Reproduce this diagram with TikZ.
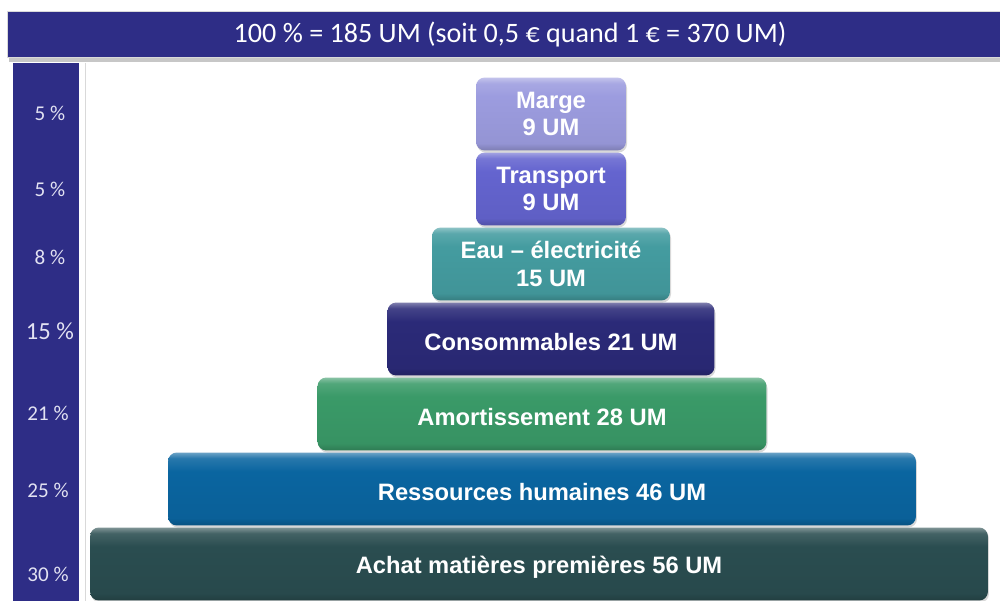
\documentclass[tikz,border=0pt]{standalone}
\usepackage{fontspec}
\setmainfont{Liberation Sans}
\newfontfamily\calib{Carlito}
\usetikzlibrary{shadows}

\definecolor{bandblue}{HTML}{2E2D86}
\definecolor{pctgray}{HTML}{E2E2F2}
\definecolor{margec}{HTML}{9C9CDF}
\definecolor{transc}{HTML}{6464CF}
\definecolor{eauc}{HTML}{449CA0}
\definecolor{consoc}{HTML}{2B2A78}
\definecolor{amortc}{HTML}{3A9A68}
\definecolor{rhc}{HTML}{0A65A0}
\definecolor{achatc}{HTML}{2A4D50}

\colorlet{tierbase}{gray}
\pgfdeclareverticalshading[tierbase]{bevel}{100bp}{%
  color(0bp)=(tierbase!80!black); color(25bp)=(tierbase!80!black);
  color(30bp)=(tierbase!95!black); color(62bp)=(tierbase);
  color(71bp)=(tierbase!88!white); color(75bp)=(tierbase!60!white);
  color(100bp)=(tierbase!60!white)}

\begin{document}
\begin{tikzpicture}[x=0.02cm,y=-0.02cm,
  tier/.style={rounded corners=5pt, minimum height=1.46cm, inner sep=0pt,
    align=center, text=white, font=\bfseries\fontsize{13.5}{15.5}\selectfont,
    execute at begin node={\rule{0pt}{13.5pt}},
    drop shadow={opacity=0.3, shadow xshift=0.6pt, shadow yshift=-1.2pt}},
  tint/.style={/utils/exec={\colorlet{tierbase}{#1}}, shading=bevel},
  pct/.style={text=pctgray, font=\calib\fontsize{12}{13}\selectfont}]
  \useasboundingbox (0,0) rectangle (1000,601);
  \fill[white] (0,0) rectangle (1000,601);

  %------ header
  \fill[black!22] (9,58) rectangle (1000,62);
  \node[fill=bandblue, draw=white!85!black, minimum width=20.12cm, minimum height=0.92cm,
        text=white, font=\calib\fontsize{16}{17}\selectfont] (head) at (510,34)
        {100 \% = 185 UM (soit 0,5 € quand 1 € = 370 UM)};

  %------ percentages
  \fill[bandblue] (13,63) rectangle (79,601);
  \draw[black!15] (85,63) -- (85,601);

  \node[pct] (p1) at (50,113) {5 \%};
  \node[pct] (p2) at (50,189) {5 \%};
  \node[pct] (p3) at (50,257) {8 \%};
  \node[pct, font=\calib\fontsize{14}{15}\selectfont] (p4) at (50,331) {15 \%};
  \node[pct] (p5) at (48,413) {21 \%};
  \node[pct] (p6) at (48,490) {25 \%};
  \node[pct] (p7) at (48,574) {30 \%};

  %------ pyramid
  \node[tier, tint=achatc, minimum width=17.96cm] (achat) at (539,564)
    {Achat matières premières 56 UM};
  \node[tier, tint=rhc, minimum width=14.96cm] (rh) at (542,489)
    {Ressources humaines 46 UM};
  \node[tier, tint=amortc, minimum width=8.98cm] (amort) at (542,414)
    {Amortissement 28 UM};
  \node[tier, tint=consoc, minimum width=6.54cm] (conso) at (551,339)
    {Consommables 21 UM};
  \node[tier, tint=eauc, minimum width=4.76cm] (eau) at (551,264)
    {Eau – électricité\\15 UM};
  \node[tier, tint=transc, minimum width=3cm] (transport) at (551,189)
    {Transport\\9 UM};
  \node[tier, tint=margec, minimum width=3cm] (marge) at (551,114)
    {Marge\\9 UM};

\end{tikzpicture}
\end{document}
